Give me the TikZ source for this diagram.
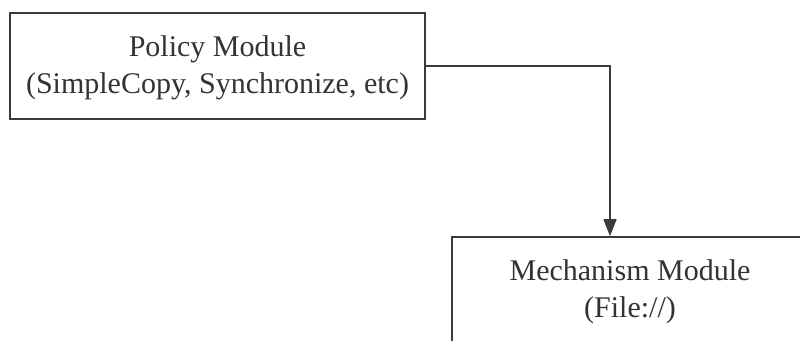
\documentclass[tikz,border=0pt]{standalone}
\usepackage{fontspec}
\setmainfont{Liberation Serif}
\usetikzlibrary{arrows.meta}
\definecolor{inkline}{HTML}{3A3A3A}
\definecolor{inktext}{HTML}{333333}
\tikzset{
  modbox/.style={draw=inkline, line width=1.7pt, rectangle, align=center,
    text=inktext, font=\fontsize{30}{37}\selectfont, inner sep=0pt},
  flow/.style={draw=inkline, line width=1.5pt, -{Triangle[length=17pt,width=13pt]}}
}
\begin{document}
\begin{tikzpicture}[x=1pt,y=-1pt]
\useasboundingbox (0,0) rectangle (800,340);
\clip (0,0) rectangle (800,340);
\fill[white] (0,0) rectangle (800,340);
\node[modbox, minimum width=415pt, minimum height=106pt, text depth=2pt] (pol) at (217.5,66)
  {Policy Module\\(SimpleCopy, Synchronize, etc)};
\node[modbox, minimum width=356pt, minimum height=110pt] (mech) at (630,292)
  {Mechanism Module\\(File://)};
\draw[flow] (pol.east) -| ([xshift=-20pt]mech.north);
\end{tikzpicture}
\end{document}
